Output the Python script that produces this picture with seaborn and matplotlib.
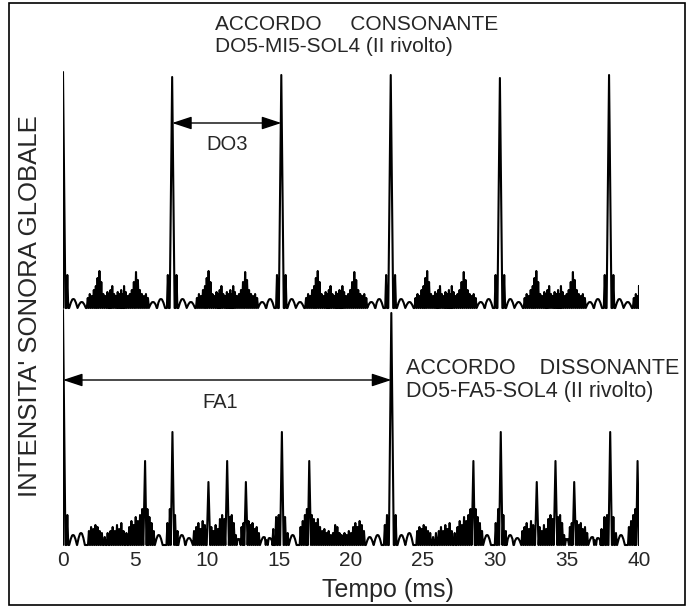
import matplotlib
matplotlib.use('Agg')
import pandas as pd
import matplotlib.pyplot as plt
from matplotlib.patches import Rectangle
import seaborn as sns

# Time ticks (ms)
x_ticks = [0, 5, 10, 15, 20, 25, 30, 35, 40]

# Upper trace: consonant chord (period of DO3)
top_base = 237
top_main_t = [0.0, 7.58, 15.16, 22.76, 30.34, 37.92]
top_main_h = [236, 231, 233, 233, 230, 233]
# small peaks, offsets (ms) inside one DO3 period
top_small_t = [0.3, 1.72, 1.86, 2.0, 2.14, 2.28, 2.4, 2.53, 2.66, 2.8,
               2.94, 3.08, 3.2, 3.3, 3.42, 3.55, 3.68, 3.8, 3.92, 4.04,
               4.14, 4.24, 4.36, 4.5, 4.64, 4.78, 4.92, 5.07, 5.2, 5.34,
               5.48, 5.62, 5.76, 5.9, 7.28]
top_small_h = [33, 10, 14, 12, 18, 22, 30, 37, 26, 14,
               12, 16, 14, 18, 22, 14, 12, 16, 14, 18,
               14, 22, 16, 12, 14, 18, 26, 36, 28, 18,
               14, 12, 14, 10, 33]
top_hump_t = [0.72, 1.3, 6.25, 6.8]
top_hump_h = [9, 6, 6, 9]

# Lower trace: dissonant chord (period of FA1)
bot_base = 0
bot_main_t = [0.0, 22.8]
bot_main_h = [235, 232]
# offsets (ms) inside one FA1 period
bot_mid_t = [5.7, 7.6, 10.1, 11.4, 12.7, 15.2, 17.1]
bot_mid_h = [84, 113, 63, 84, 63, 113, 84]
bot_small_t = [0.3, 1.8, 1.95, 2.1, 2.25, 2.4, 2.55, 2.7, 2.9, 3.1,
               3.3, 3.45, 3.6, 3.75, 3.9, 4.05, 4.2, 4.4, 4.6, 4.75,
               4.9, 5.05, 5.2, 5.35, 5.5, 5.86, 6.0, 6.15, 6.3, 7.25,
               7.42, 7.78, 7.95, 9.1, 9.25, 9.4, 9.55, 9.7, 9.85, 10.3,
               10.45, 10.6, 10.75, 10.9, 11.05, 11.2, 11.58, 11.72, 11.86, 12.0,
               12.4, 12.53, 12.88, 13.02, 13.16, 13.3, 13.45, 13.6, 14.6, 14.8,
               14.98, 15.42, 15.6, 16.5, 16.65, 16.8, 16.94, 17.28, 17.42, 17.56,
               17.7, 17.85, 18.0, 18.15, 18.3, 18.45, 18.6, 18.75, 18.9, 19.05,
               19.2, 19.35, 19.55, 19.7, 19.85, 20.0, 20.15, 20.3, 20.45, 20.6,
               20.75, 20.9, 22.35, 22.5]
bot_small_h = [30, 14, 18, 16, 20, 18, 14, 12, 8, 12,
               14, 18, 14, 20, 16, 22, 14, 12, 18, 24,
               20, 28, 24, 30, 36, 36, 28, 22, 14, 22,
               36, 30, 14, 14, 18, 22, 16, 24, 20, 18,
               14, 20, 16, 26, 30, 26, 28, 30, 22, 10,
               18, 22, 24, 20, 22, 16, 18, 12, 16, 28,
               30, 28, 12, 18, 24, 30, 36, 30, 26, 22,
               26, 18, 14, 16, 12, 14, 10, 12, 20, 18,
               12, 10, 12, 10, 14, 12, 18, 22, 18, 24,
               20, 14, 20, 30]
bot_hump_t = [0.7, 1.25, 6.65, 8.25, 8.75, 12.2, 13.95, 14.35, 15.95, 21.3, 21.85]
bot_hump_h = [10, 12, 10, 10, 7, 6, 8, 7, 10, 8, 10]

T_MAX = 40


def spike(t, h, w, base, smooth=False):
    if smooth:
        return [(t - w, base), (t - w * 0.6, base + 0.6 * h), (t - w * 0.25, base + 0.95 * h),
                (t, base + h), (t + w * 0.25, base + 0.95 * h),
                (t + w * 0.6, base + 0.6 * h), (t + w, base)]
    return [(t - w, base), (t, base + h), (t + w, base)]


def build_trace(base, main_t, main_h, groups):
    # groups: (offsets, heights, halfwidth, smooth) repeated from every main peak
    pts = [(0, base), (T_MAX, base)]
    for t, h in zip(main_t, main_h):
        pts += spike(t, h, 0.17, base)
    for start in main_t:
        for offs, hs, w, smooth in groups:
            for o, h in zip(offs, hs):
                t = start + o
                if t + w <= T_MAX + 0.3:
                    pts += spike(t, h, w, base, smooth)
    pts = [(min(max(x, 0), T_MAX), y) for x, y in pts]
    pts.sort(key=lambda p: p[0])
    return pd.DataFrame(pts, columns=['t', 'v'])


top_df = build_trace(top_base, top_main_t, top_main_h,
                     [(top_small_t, top_small_h, 0.065, False),
                      (top_hump_t, top_hump_h, 0.29, True)])
bot_df = build_trace(bot_base, bot_main_t, bot_main_h,
                     [(bot_mid_t, bot_mid_h, 0.12, False),
                      (bot_small_t, bot_small_h, 0.065, False),
                      (bot_hump_t, bot_hump_h, 0.27, True)])

sns.set_theme(style='white')
plt.rcParams['font.family'] = ['Liberation Sans', 'DejaVu Sans']

W, H = 686, 608
fig = plt.figure(figsize=(W / 100, H / 100), dpi=100)
# axes in pixel units: x 63..639, y 550..65
ax = fig.add_axes([63 / W, (H - 550) / H, 576 / W, 485 / H])

sns.lineplot(data=top_df, x='t', y='v', estimator=None, sort=False,
             color='black', linewidth=1.5, ax=ax)
sns.lineplot(data=bot_df, x='t', y='v', estimator=None, sort=False,
             color='black', linewidth=1.5, ax=ax)

ax.set_xlim(0, T_MAX)
ax.set_ylim(-5, 480)
ax.set_xticks(x_ticks)
ax.set_xticklabels([str(v) for v in x_ticks], fontsize=15)
ax.set_yticks([])
ax.tick_params(axis='x', length=0, pad=1)
for s in ax.spines.values():
    s.set_visible(False)
ax.set_xlabel('Tempo (ms)', fontsize=18, va='center')
ax.xaxis.set_label_coords((388 - 63) / 576, -(590 - 550) / 485)
ax.set_ylabel("INTENSITA' SONORA GLOBALE", fontsize=18.5)
ax.yaxis.set_label_coords(-0.036, 0.503)

# period arrows
arrow = dict(arrowstyle='<|-|>,head_length=1.0,head_width=0.33', lw=1,
             color='black', shrinkA=0, shrinkB=0)
ax.annotate('', xy=(top_main_t[2], 422), xytext=(top_main_t[1], 422), arrowprops=arrow)
ax.text((top_main_t[1] + top_main_t[2]) / 2, 400, 'DO3', fontsize=14.5,
        ha='center', va='center')
ax.annotate('', xy=(bot_main_t[1], 165), xytext=(bot_main_t[0], 165), arrowprops=arrow)
ax.text(10.9, 142, 'FA1', fontsize=14.5, ha='center', va='center')

# captions
fig.text(215 / W, 1 - 24 / H, 'ACCORDO     CONSONANTE', fontsize=15, va='center')
fig.text(215 / W, 1 - 47 / H, 'DO5-MI5-SOL4 (II rivolto)', fontsize=15, va='center')
fig.text(406 / W, 1 - 369 / H, 'ACCORDO    DISSONANTE', fontsize=15.5, va='center')
fig.text(406 / W, 1 - 391 / H, 'DO5-FA5-SOL4 (II rivolto)', fontsize=15.5, va='center')

# frame around the whole figure
fig.patches.append(Rectangle((9 / W, 3 / H), 676 / W, 602 / H, transform=fig.transFigure,
                             fill=False, edgecolor='black', linewidth=1.2))

fig.savefig('out.png', dpi=100)
